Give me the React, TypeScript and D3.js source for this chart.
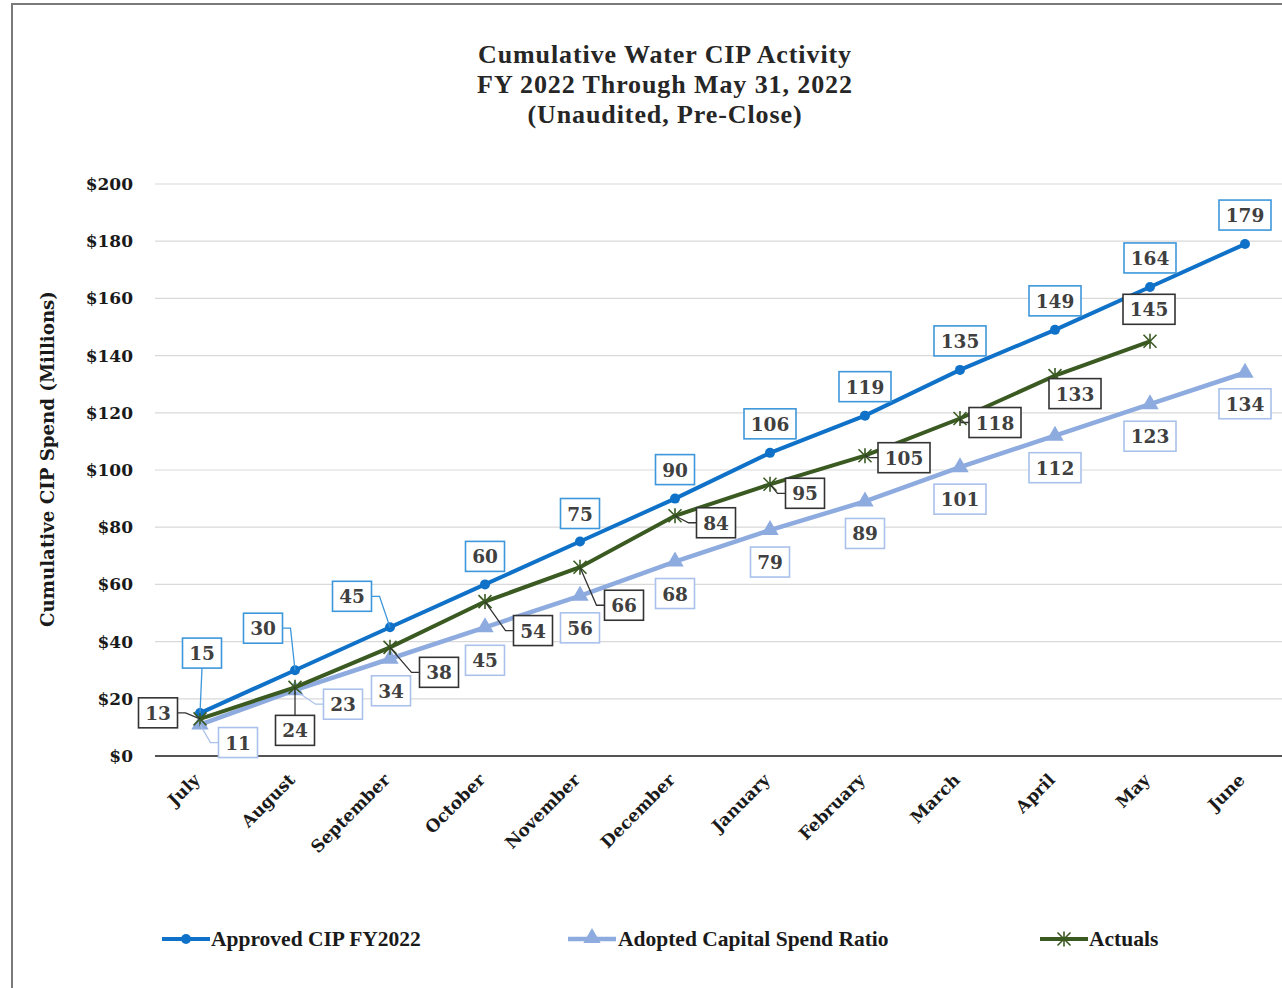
import React from "react";
import * as d3 from "d3";

const months = ["July","August","September","October","November","December","January","February","March","April","May","June"];
const approved = [15,30,45,60,75,90,106,119,135,149,164,179];
const adopted = [11,23,34,45,56,68,79,89,101,112,123,134];
const actuals = [13,24,38,54,66,84,95,105,118,133,145];
const yTicks = [0,20,40,60,80,100,120,140,160,180,200];
const titleLines = ["Cumulative Water CIP Activity","FY 2022 Through May 31, 2022","(Unaudited, Pre-Close)"];

// label layout offsets (box centre relative to point) and leader flags
const approvedOff: [number, number, boolean][] = [[2,-60,true],[-32,-42,true],[-38,-31,true],[0,-28,false],[0,-28,false],[0,-29,false],[0,-29,false],[0,-29,false],[0,-29,false],[0,-29,false],[0,-29,false],[0,-29,false]];
const adoptedOff: [number, number, boolean][] = [[38,18,true],[48,14,true],[1,32,false],[0,33,false],[0,32,false],[0,32,false],[0,32,false],[0,32,false],[0,32,false],[0,32,false],[0,32,false],[0,31,false]];
const actualsOff: [number, number, boolean][] = [[-42,-6,true],[0,43,true],[49,25,true],[48,29,true],[44,38,true],[41,7,true],[35,9,true],[39,2,true],[35,4,true],[20,18,false],[-1,-32,false]];

const C_APPROVED = "#0F72C8";
const C_ADOPTED = "#8EABDF";
const C_ACTUALS = "#3A5A22";
const NUMFONT = "'DejaVu Serif', serif";
const TITLEFONT = "'Liberation Serif', serif";

const x = d3.scalePoint<string>().domain(months).range([200, 1245]);
const y = d3.scaleLinear().domain([0, 200]).range([756, 184]);
const line = d3.line<[number, number]>().x(d => d[0]).y(d => d[1]);

function pts(vals: number[]): [number, number][] {
  return vals.map((v, i) => [x(months[i]) as number, y(v)]);
}

function Star({ cx, cy }: { cx: number; cy: number }) {
  const s = 6.5;
  return (
    <g stroke={C_ACTUALS} strokeWidth={1.6}>
      <line x1={cx - s} y1={cy - s} x2={cx + s} y2={cy + s} />
      <line x1={cx - s} y1={cy + s} x2={cx + s} y2={cy - s} />
      <line x1={cx} y1={cy - s - 1} x2={cx} y2={cy + s + 1} />
    </g>
  );
}

function Labels({ vals, off, border }: { vals: number[]; off: [number, number, boolean][]; border: string }) {
  const p = pts(vals);
  return (
    <g>
      {vals.map((v, i) => {
        const [px, py] = p[i];
        const [dx, dy, leader] = off[i];
        const txt = String(v);
        const w = 13 + 13 * txt.length;
        const h = 30;
        const cx = px + dx, cy = py + dy;
        let leaderPath = "";
        if (leader) {
          if (Math.abs(dx) > w / 2) {
            const sx = cx - Math.sign(dx) * (w / 2);
            const ex = sx - Math.sign(dx) * 8;
            leaderPath = `M${sx},${cy}L${ex},${cy}L${px},${py}`;
          } else {
            const sy = cy - Math.sign(dy) * (h / 2);
            leaderPath = `M${cx},${sy}L${px},${py}`;
          }
        }
        return (
          <g key={i}>
            {leader && <path d={leaderPath} fill="none" stroke={border} strokeWidth={1.3} />}
            <rect x={cx - w / 2} y={cy - h / 2} width={w} height={h} fill="#fff" stroke={border} strokeWidth={1.6} />
            <text x={cx} y={cy + 7} textAnchor="middle" fontFamily={NUMFONT} fontWeight="bold" fontSize={18.5} fill="#404040">{txt}</text>
          </g>
        );
      })}
    </g>
  );
}

export default function App() {
  const pA = pts(approved), pB = pts(adopted), pC = pts(actuals);
  const tri = d3.symbol().type(d3.symbolTriangle).size(130)() as string;
  return (
    <svg width={1282} height={988} style={{ position: "absolute", left: 0, top: 0, background: "#fff" }}>
      <rect x={0} y={0} width={1282} height={988} fill="#fff" />
      {/* frame */}
      <line x1={12} y1={4} x2={1282} y2={4} stroke="#7a7a7a" strokeWidth={2} />
      <line x1={12} y1={3} x2={12} y2={988} stroke="#7a7a7a" strokeWidth={2} />
      {/* title */}
      {titleLines.map((t, i) => (
        <text key={i} x={665} y={63 + i * 30} textAnchor="middle" fontFamily={TITLEFONT} fontWeight="bold" fontSize={26} letterSpacing={0.9} fill="#262626">{t}</text>
      ))}
      {/* grid */}
      {yTicks.map(t => (
        <g key={t}>
          {t > 0 && <line x1={155} x2={1282} y1={y(t)} y2={y(t)} stroke="#d9d9d9" strokeWidth={1.2} />}
          <text x={133} y={y(t) + 6} textAnchor="end" fontFamily={NUMFONT} fontWeight="bold" fontSize={17} fill="#1a1a1a">{"$" + t}</text>
        </g>
      ))}
      <line x1={155} x2={1282} y1={y(0)} y2={y(0)} stroke="#1a1a1a" strokeWidth={1.6} />
      {/* y title */}
      <text transform={`translate(54,459) rotate(-90)`} textAnchor="middle" fontFamily={NUMFONT} fontWeight="bold" fontSize={18.2} fill="#1a1a1a">Cumulative CIP Spend (Millions)</text>
      {/* x labels */}
      {months.map(m => (
        <text key={m} transform={`translate(${(x(m) as number) + 1},${781}) rotate(-45)`} textAnchor="end" fontFamily={NUMFONT} fontWeight="bold" fontSize={17} fill="#1a1a1a">{m}</text>
      ))}
      {/* lines */}
      <path d={line(pB) as string} fill="none" stroke={C_ADOPTED} strokeWidth={4.5} />
      {pB.map((p, i) => <path key={i} d={tri} transform={`translate(${p[0]},${p[1]})`} fill={C_ADOPTED} />)}
      <path d={line(pA) as string} fill="none" stroke={C_APPROVED} strokeWidth={4} />
      {pA.map((p, i) => <circle key={i} cx={p[0]} cy={p[1]} r={5} fill={C_APPROVED} />)}
      <path d={line(pC) as string} fill="none" stroke={C_ACTUALS} strokeWidth={4} />
      {pC.map((p, i) => <Star key={i} cx={p[0]} cy={p[1]} />)}
      {/* data labels */}
      <Labels vals={adopted} off={adoptedOff} border="#A9C1EB" />
      <Labels vals={actuals} off={actualsOff} border="#333333" />
      <Labels vals={approved} off={approvedOff} border="#3D97DA" />
      {/* legend */}
      <g>
        <line x1={162} x2={210} y1={939} y2={939} stroke={C_APPROVED} strokeWidth={4} />
        <circle cx={186} cy={939} r={5} fill={C_APPROVED} />
        <text x={211} y={946} fontFamily={TITLEFONT} fontWeight="bold" fontSize={21.5} fill="#1a1a1a">Approved CIP FY2022</text>
        <line x1={568} x2={616} y1={939} y2={939} stroke={C_ADOPTED} strokeWidth={4.5} />
        <path d={tri} transform="translate(592,938)" fill={C_ADOPTED} />
        <text x={618} y={946} fontFamily={TITLEFONT} fontWeight="bold" fontSize={21.5} fill="#1a1a1a">Adopted Capital Spend Ratio</text>
        <line x1={1040} x2={1088} y1={939} y2={939} stroke={C_ACTUALS} strokeWidth={4} />
        <Star cx={1064} cy={939} />
        <text x={1089} y={946} fontFamily={TITLEFONT} fontWeight="bold" fontSize={21.5} fill="#1a1a1a">Actuals</text>
      </g>
    </svg>
  );
}
